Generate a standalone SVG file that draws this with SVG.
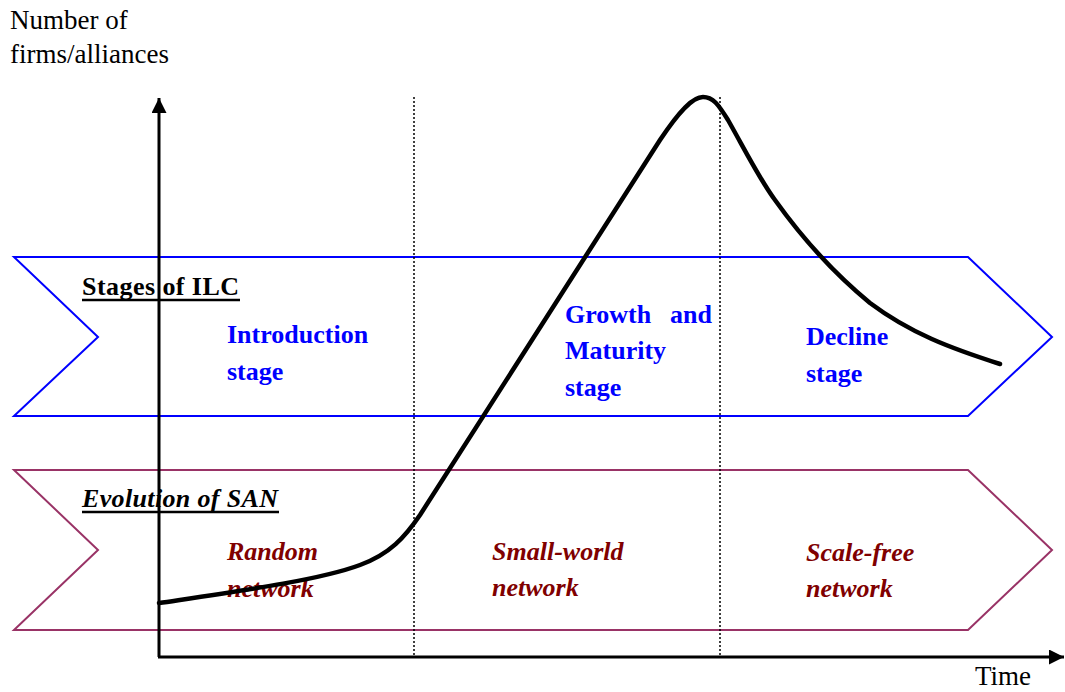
<svg xmlns="http://www.w3.org/2000/svg" width="1065" height="692" viewBox="0 0 1065 692">
  <style>
    .serif { font-family: "Liberation Serif", "Times New Roman", serif; }
    .axislabel { font-size: 27px; fill: #000; }
    .title { font-size: 26px; font-weight: bold; fill: #000; }
    .stage { font-size: 26px; font-weight: bold; fill: #0000FF; }
    .san { font-size: 26px; font-weight: bold; font-style: italic; fill: #800000; }
    .chev-ilc { fill: none; stroke: #0000FF; stroke-width: 2; }
    .chev-san { fill: none; stroke: #993366; stroke-width: 2; }
    .uline { stroke: #000; stroke-width: 2.5; }
    .axis { stroke: #000; stroke-width: 3; fill: none; }
    .divider { stroke: #000; stroke-width: 1.5; stroke-dasharray: 2 2; fill: none; }
    .curve { stroke: #000; stroke-width: 4.5; fill: none; stroke-linecap: round; stroke-linejoin: round; }
  </style>
  <defs>
    <marker id="arrow" viewBox="0 0 10 10" refX="10" refY="5" markerWidth="5" markerHeight="5" markerUnits="strokeWidth" orient="auto">
      <path d="M0,0 L10,5 L0,10 Z" fill="#000"/>
    </marker>
  </defs>
  <rect width="1065" height="692" fill="#fff"/>

  <g id="ilc-band">
    <polygon class="chev-ilc" points="14,257 968,257 1052,337 968,416 14,416 98,337"/>
    <text class="serif title" x="82" y="295" textLength="157" lengthAdjust="spacing">Stages of ILC</text>
    <line class="uline" x1="82" y1="300" x2="240" y2="300"/>
  </g>
  <g id="ilc-introduction">
    <text class="serif stage" x="227" y="343">Introduction</text>
    <text class="serif stage" x="227" y="380">stage</text>
  </g>
  <g id="ilc-growth">
    <text class="serif stage" x="565" y="323">Growth</text>
    <text class="serif stage" x="670" y="323">and</text>
    <text class="serif stage" x="565" y="359">Maturity</text>
    <text class="serif stage" x="565" y="396">stage</text>
  </g>
  <g id="ilc-decline">
    <text class="serif stage" x="806" y="345">Decline</text>
    <text class="serif stage" x="806" y="382">stage</text>
  </g>

  <g id="san-band">
    <polygon class="chev-san" points="14,470 968,470 1052,550 968,630 14,630 98,550"/>
    <text class="serif title" font-style="italic" x="82" y="507" textLength="196" lengthAdjust="spacing">Evolution of SAN</text>
    <line class="uline" x1="82" y1="512" x2="279" y2="512"/>
  </g>
  <g id="san-random">
    <text class="serif san" x="227" y="560">Random</text>
    <text class="serif san" x="227" y="597">network</text>
  </g>
  <g id="san-smallworld">
    <text class="serif san" x="492" y="560">Small-world</text>
    <text class="serif san" x="492" y="596">network</text>
  </g>
  <g id="san-scalefree">
    <text class="serif san" x="806" y="561">Scale-free</text>
    <text class="serif san" x="806" y="597">network</text>
  </g>

  <g id="connectors">
    <line class="divider" x1="414" y1="97" x2="414" y2="657"/>
    <line class="divider" x1="720" y1="97" x2="720" y2="657"/>
    <line class="axis" x1="159" y1="657" x2="159" y2="98" marker-end="url(#arrow)"/>
    <line class="axis" x1="158" y1="657" x2="1064" y2="657" marker-end="url(#arrow)"/>
    <path class="curve" d="M159,603 C240,591 320,580 360,565 C390,554 405,537 420,515 L660,140 C680,110 693,97 703,97 C713,97 718,104 728,120 C745,150 760,180 775,200 C800,235 830,270 870,303 C910,333 950,348 1000,364"/>
  </g>

  <g id="axis-labels">
    <text class="serif axislabel" x="10" y="29">Number of</text>
    <text class="serif axislabel" x="10" y="63">firms/alliances</text>
    <text class="serif axislabel" x="975" y="685">Time</text>
  </g>
</svg>
